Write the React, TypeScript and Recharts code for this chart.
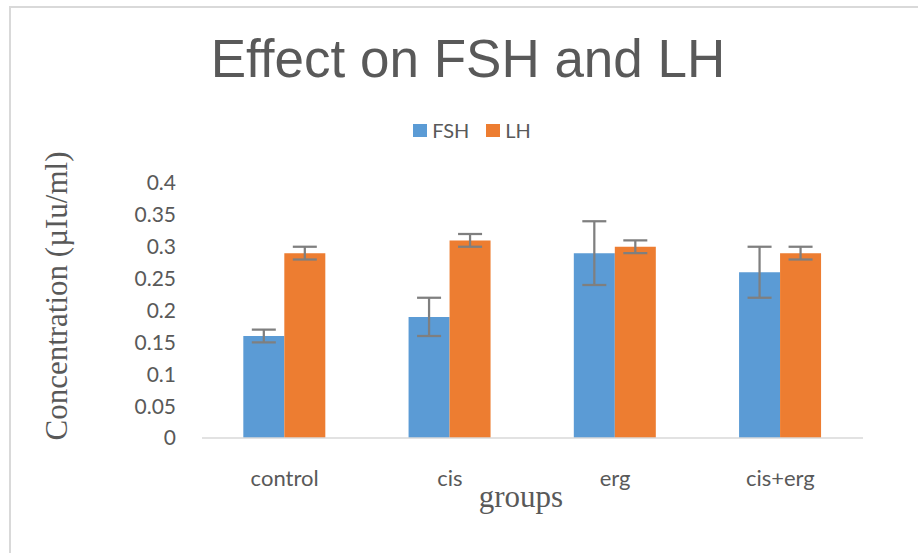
import React from 'react';
import { BarChart, Bar, XAxis, YAxis, ErrorBar, Legend } from 'recharts';

const categories = ['control', 'cis', 'erg', 'cis+erg'];
const fshValues = [0.16, 0.19, 0.29, 0.26];
const fshErrors = [0.01, 0.03, 0.05, 0.04];
const lhValues = [0.29, 0.31, 0.3, 0.29];
const lhErrors = [0.01, 0.01, 0.01, 0.01];
const yTicks = [0, 0.05, 0.1, 0.15, 0.2, 0.25, 0.3, 0.35, 0.4];
const yTickLabels = ['0', '0.05', '0.1', '0.15', '0.2', '0.25', '0.3', '0.35', '0.4'];
const seriesNames = ['FSH', 'LH'];
const seriesColors = ['#5B9BD5', '#ED7D31'];

const data = categories.map((c, i) => ({
  group: c,
  FSH: fshValues[i],
  fshErr: fshErrors[i],
  LH: lhValues[i],
  lhErr: lhErrors[i],
}));

const TEXT = '#595959';
const SANS = 'Lato, "Open Sans", sans-serif';

const LegendContent = (props: any) => {
  const payload = props.payload || [];
  return (
    <div style={{ display: 'flex', justifyContent: 'center', alignItems: 'center', fontFamily: SANS, fontSize: 20, color: TEXT }}>
      {payload.map((p: any, i: number) => (
        <div key={i} style={{ display: 'flex', alignItems: 'center', marginLeft: i === 0 ? 0 : 17 }}>
          <span style={{ display: 'inline-block', width: 14, height: 13, background: p.color, marginRight: 5 }} />
          <span style={{ lineHeight: '20px' }}>{p.value}</span>
        </div>
      ))}
    </div>
  );
};

export default function App() {
  return (
    <div style={{ position: 'absolute', left: 0, top: 0, width: 918, height: 553, overflow: 'hidden', background: '#fff' }}>
      <div style={{ position: 'absolute', left: 9, top: 6, width: 940, height: 600, borderLeft: '2px solid #d9d9d9', borderTop: '2px solid #d9d9d9', boxSizing: 'border-box' }} />
      <div style={{ position: 'absolute', left: 0, top: 0 }}>
        <BarChart width={918} height={553} data={data} margin={{ top: 183, right: 55, bottom: 55, left: 0 }} barCategoryGap="25%" barGap={0}>
          <XAxis
            dataKey="group"
            height={60}
            axisLine={{ stroke: '#d9d9d9', strokeWidth: 1.5 }}
            tickLine={false}
            tickSize={0}
            tickMargin={32}
            tick={{ fill: TEXT, fontSize: 22, fontFamily: SANS }}
          />
          <YAxis
            width={202}
            domain={[0, 0.4]}
            ticks={yTicks}
            tickFormatter={(v: number) => yTickLabels[yTicks.indexOf(v)] ?? String(v)}
            axisLine={false}
            tickLine={false}
            tickSize={0}
            tickMargin={26}
            interval={0}
            tick={{ fill: TEXT, fontSize: 21, fontFamily: SANS }}
          />
          <Legend
            layout="horizontal"
            verticalAlign="middle"
            align="center"
            wrapperStyle={{ top: 120, left: 0, width: 944 }}
            content={<LegendContent />}
          />
          <Bar dataKey="FSH" name={seriesNames[0]} fill={seriesColors[0]} isAnimationActive={false}>
            <ErrorBar dataKey="fshErr" width={12} stroke="#7f7f7f" strokeWidth={2.25} />
          </Bar>
          <Bar dataKey="LH" name={seriesNames[1]} fill={seriesColors[1]} isAnimationActive={false}>
            <ErrorBar dataKey="lhErr" width={12} stroke="#7f7f7f" strokeWidth={2.25} />
          </Bar>
        </BarChart>
      </div>
      <svg width={918} height={553} style={{ position: 'absolute', left: 0, top: 0, pointerEvents: 'none' }}>
        <text x={468} y={77} textAnchor="middle" fill={TEXT} style={{ fontFamily: '"Liberation Sans", Arial, sans-serif', fontSize: 53 }}>
          Effect on FSH and LH
        </text>
        <text x={67} y={296} textAnchor="middle" fill={TEXT} transform="rotate(-90, 67, 296)" style={{ fontFamily: '"Liberation Serif", "Times New Roman", serif', fontSize: 31 }}>
          Concentration (µIu/ml)
        </text>
        <text x={521} y={507} textAnchor="middle" fill={TEXT} style={{ fontFamily: '"Liberation Serif", "Times New Roman", serif', fontSize: 31 }}>
          groups
        </text>
      </svg>
    </div>
  );
}
